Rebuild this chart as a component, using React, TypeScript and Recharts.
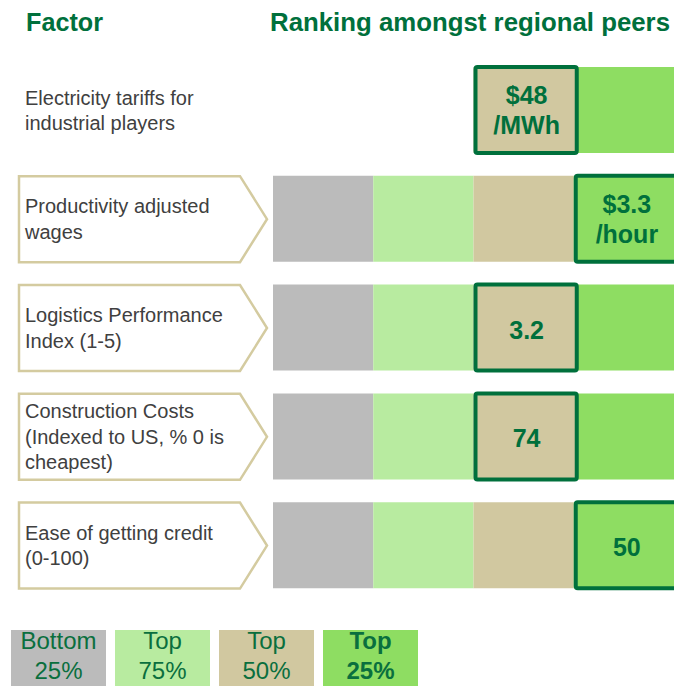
import React from 'react';
import { BarChart, Bar, XAxis, YAxis, LabelList, Legend, Customized, Cell } from 'recharts';

// ---------- data ----------
const factors = [
  'Electricity tariffs for\nindustrial players',
  'Productivity adjusted\nwages',
  'Logistics Performance\nIndex (1-5)',
  'Construction Costs\n(Indexed to US, % 0 is\ncheapest)',
  'Ease of getting credit\n(0-100)',
];
const labelBoxed = [false, true, true, true, true];
const lowerShown = [false, true, true, true, true];

const quartileNames = ['Bottom 25%', 'Top 75%', 'Top 50%', 'Top 25%'];
const bottom25 = [25, 25, 25, 25, 25];
const top75 = [25, 25, 25, 25, 25];
const top50 = [25, 25, 25, 25, 25];
const top25 = [25, 25, 25, 25, 25];

const rankQuartile = [2, 3, 2, 2, 3]; // index into quartileNames
const rankFrom = [50, 75, 50, 50, 75];
const rankTo = [75, 100, 75, 75, 100];
const valueLabels = ['$48\n/MWh', '$3.3\n/hour', '3.2', '74', '50'];

const titleLeft = 'Factor';
const titleRight = 'Ranking amongst regional peers';

// ---------- styles ----------
const COLORS = ['#BBBBBB', '#B8EBA0', '#D1C8A0', '#8EDD62'];
const DARK = '#00703C';
const FONT = '"Liberation Sans", Arial, Helvetica, sans-serif';

const data = factors.map((f, i) => ({
  factor: f,
  b25: bottom25[i],
  t75: top75[i],
  t50: top50[i],
  t25: top25[i],
  hl: [rankFrom[i], rankTo[i]],
  hlFill: COLORS[rankQuartile[i]],
  label: valueLabels[i],
}));

const FactorTick = (props: any) => {
  const { y, payload } = props;
  const i = factors.indexOf(payload.value);
  const lines = String(payload.value).split('\n');
  const n = lines.length;
  return (
    <g>
      {labelBoxed[i] && (
        <polygon
          points={`19,${y - 43} 240,${y - 43} 267,${y} 240,${y + 43} 19,${y + 43}`}
          fill="#FFFFFF"
          stroke="#D4CBA0"
          strokeWidth={2.5}
          strokeLinejoin="miter"
        />
      )}
      {lines.map((ln, j) => (
        <text
          key={j}
          x={25}
          y={y + 7 + (j - (n - 1) / 2) * 25.5}
          fontFamily={FONT}
          fontSize={20}
          fill="#404040"
        >
          {ln}
        </text>
      ))}
    </g>
  );
};

const HighlightShape = (props: any) => {
  const { x, y, width, height, payload } = props;
  return (
    <rect
      x={x + 2}
      y={y}
      width={width + 1}
      height={height}
      fill={payload.hlFill}
      stroke={DARK}
      strokeWidth={4}
      rx={2}
      ry={2}
    />
  );
};

const ValueLabel = (props: any) => {
  const vb = props.viewBox && props.viewBox.width !== undefined ? props.viewBox : props;
  const { x, y, width, height } = vb;
  const lines = String(props.value).split('\n');
  const n = lines.length;
  const cx = x + width / 2 + 3;
  const cy = y + height / 2;
  return (
    <g>
      {lines.map((ln, j) => (
        <text
          key={j}
          x={cx}
          y={cy + 9 + (j - (n - 1) / 2) * 30 + (n === 1 ? 2 : 0)}
          textAnchor="middle"
          fontFamily={FONT}
          fontSize={25}
          fontWeight="bold"
          fill={DARK}
        >
          {ln}
        </text>
      ))}
    </g>
  );
};

const Titles = () => (
  <g>
    <text x={26} y={31} fontFamily={FONT} fontSize={26} fontWeight="bold" fill={DARK} textLength={77} lengthAdjust="spacingAndGlyphs">
      {titleLeft}
    </text>
    <text x={270} y={31} fontFamily={FONT} fontSize={26} fontWeight="bold" fill={DARK} textLength={400} lengthAdjust="spacingAndGlyphs">
      {titleRight}
    </text>
  </g>
);

const renderLegend = (props: any) => {
  const items = (props.payload || [])
    .filter((p: any) => p.dataKey !== 'hl' && p.type !== 'none')
    .slice()
    .sort((a: any, b: any) => quartileNames.indexOf(a.value) - quartileNames.indexOf(b.value));
  return (
    <div style={{ display: 'flex', gap: 9 }}>
      {items.map((it: any, k: number) => {
        const parts = String(it.value).split(' ');
        const isTop = it.value === quartileNames[3];
        return (
          <div
            key={k}
            style={{
              width: 95,
              height: 56,
              background: it.color,
              color: '#0A6F3E',
              fontFamily: FONT,
              fontSize: 24,
              lineHeight: '30px',
              textAlign: 'center',
              fontWeight: isTop ? 'bold' : 'normal',
              overflow: 'visible',
            }}
          >
            <div style={{ position: 'relative', top: -4 }}>
              <div>{parts[0]}</div>
              <div>{parts[1]}</div>
            </div>
          </div>
        );
      })}
    </div>
  );
};

export default function App() {
  return (
    <div style={{ position: 'absolute', left: 0, top: 0, width: 674, height: 686, background: '#FFFFFF' }}>
      <BarChart
        layout="vertical"
        width={674}
        height={686}
        data={data}
        margin={{ top: 56, right: 0, bottom: 86, left: 0 }}
        barSize={86}
      >
        <XAxis type="number" domain={[0, 100]} hide />
        <YAxis
          type="category"
          dataKey="factor"
          yAxisId="main"
          width={273}
          axisLine={false}
          tickLine={false}
          tick={(p: any) => <FactorTick {...p} />}
          interval={0}
        />
        <YAxis type="category" dataKey="factor" yAxisId="hl" hide />
        <Bar dataKey="b25" name={quartileNames[0]} stackId="q" yAxisId="main" fill={COLORS[0]} isAnimationActive={false}>
          {data.map((_, i) => (
            <Cell key={i} fill={lowerShown[i] ? COLORS[0] : 'transparent'} />
          ))}
        </Bar>
        <Bar dataKey="t75" name={quartileNames[1]} stackId="q" yAxisId="main" fill={COLORS[1]} isAnimationActive={false}>
          {data.map((_, i) => (
            <Cell key={i} fill={lowerShown[i] ? COLORS[1] : 'transparent'} />
          ))}
        </Bar>
        <Bar dataKey="t50" name={quartileNames[2]} stackId="q" yAxisId="main" fill={COLORS[2]} isAnimationActive={false} />
        <Bar dataKey="t25" name={quartileNames[3]} stackId="q" yAxisId="main" fill={COLORS[3]} isAnimationActive={false} />
        <Bar dataKey="hl" yAxisId="hl" legendType="none" shape={HighlightShape} isAnimationActive={false}>
          <LabelList dataKey="label" content={ValueLabel} />
        </Bar>
        <Customized component={Titles} />
        <Legend
          layout="vertical"
          align="center"
          verticalAlign="middle"
          content={renderLegend}
          wrapperStyle={{ top: 630, left: 11, width: 420, height: 56 }}
        />
      </BarChart>
    </div>
  );
}
